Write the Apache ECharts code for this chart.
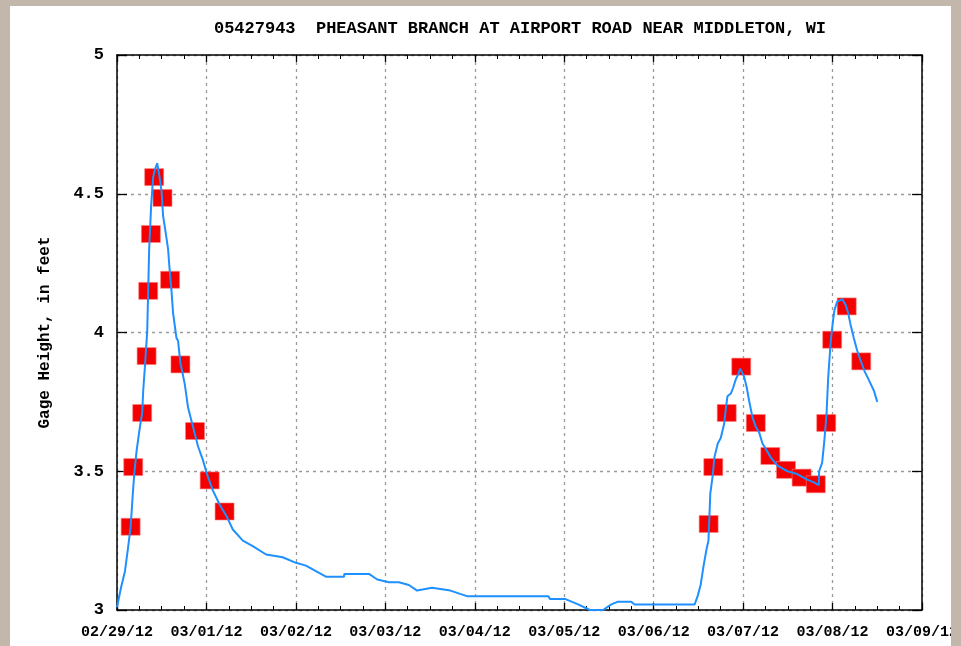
<!DOCTYPE html>
<html>
<head>
<meta charset="utf-8">
<script src="https://cdn.jsdelivr.net/npm/echarts@6/dist/echarts.min.js"></script>
<style>
  html, body { margin: 0; padding: 0; width: 961px; height: 646px; background: #c2b7aa; overflow: hidden; }
  #panel { position: absolute; left: 10px; top: 6px; width: 941px; height: 640px; background: #ffffff; }
  #chart { position: absolute; left: 0; top: 0; width: 961px; height: 646px; }
  #edge { position: absolute; left: 951px; top: 0; width: 10px; height: 646px; background: #c2b7aa; }
</style>
</head>
<body>
<div id="panel"></div>
<div id="chart"></div>
<div id="edge"></div>
<script>
// Hours since 02/29/12 00:00
const lineHours = [0, 1.07, 2.14, 3.02, 3.66, 4.20, 4.62, 5.27, 6.15, 6.76, 7.03, 7.48, 7.94, 8.10, 8.63, 9.17, 9.70, 10.24, 10.77, 11.31, 11.95, 12.37, 13.28, 13.71, 14.16, 14.62, 15.05, 15.96, 16.38, 17.02, 18.17, 19.06, 20.39, 21.73, 23.06, 24.13, 25.74, 27.53, 29.32, 31.08, 33.76, 36.43, 40.01, 44.45, 48.03, 50.70, 53.37, 56.05, 60.94, 61.0, 67.62, 69.84, 72.96, 75.63, 78.31, 80.53, 84.53, 89.45, 93.89, 102.36, 115.72, 116.17, 120.18, 123.74, 126.87, 130.42, 132.64, 134.43, 137.99, 138.89, 155.0, 155.8, 156.6, 157.4, 158.2, 158.7, 159.2, 159.8, 160.3, 161.2, 162.0, 162.9, 163.4, 163.8, 164.7, 165.3, 166.0, 166.7, 167.2, 167.6, 168.3, 169.0, 169.6, 170.5, 171.4, 172.3, 173.2, 174.1, 175.4, 177.2, 179.9, 182.5, 185.2, 187.0, 188.3, 188.4, 189.2, 189.8, 190.4, 190.8, 191.2, 191.6, 192.1, 192.5, 193.2, 194.6, 195.5, 196.2, 196.8, 197.7, 198.6, 199.5, 200.6, 201.7, 203.1, 204.0];
const lineValues = [3.01, 3.08, 3.14, 3.23, 3.30, 3.41, 3.49, 3.575, 3.66, 3.71, 3.79, 3.875, 3.97, 4.00, 4.30, 4.46, 4.56, 4.59, 4.61, 4.57, 4.51, 4.42, 4.34, 4.30, 4.22, 4.15, 4.07, 3.98, 3.97, 3.89, 3.815, 3.73, 3.66, 3.59, 3.54, 3.49, 3.43, 3.38, 3.34, 3.29, 3.25, 3.23, 3.20, 3.19, 3.17, 3.16, 3.14, 3.12, 3.12, 3.13, 3.13, 3.11, 3.10, 3.10, 3.09, 3.07, 3.08, 3.07, 3.05, 3.05, 3.05, 3.04, 3.04, 3.02, 3.00, 3.00, 3.02, 3.03, 3.03, 3.02, 3.02, 3.05, 3.09, 3.16, 3.22, 3.25, 3.42, 3.48, 3.55, 3.60, 3.62, 3.67, 3.73, 3.77, 3.78, 3.80, 3.83, 3.85, 3.87, 3.87, 3.84, 3.80, 3.755, 3.695, 3.66, 3.64, 3.60, 3.58, 3.55, 3.52, 3.50, 3.49, 3.47, 3.46, 3.45, 3.50, 3.53, 3.61, 3.71, 3.83, 3.91, 3.98, 4.04, 4.08, 4.11, 4.12, 4.10, 4.07, 4.03, 3.98, 3.935, 3.90, 3.86, 3.83, 3.79, 3.75];

const pointHours = [3.66, 4.36, 6.76, 7.94, 8.37, 9.09, 9.97, 12.21, 14.24, 17.02, 20.93, 24.86, 28.86, 158.75, 160.0, 163.6, 167.5, 171.4, 175.3, 179.5, 183.7, 187.5, 190.3, 191.9, 195.8, 199.7];
const pointValues = [3.30, 3.515, 3.71, 3.915, 4.15, 4.355, 4.56, 4.485, 4.19, 3.885, 3.645, 3.467, 3.355, 3.31, 3.515, 3.71, 3.877, 3.674, 3.555, 3.505, 3.477, 3.453, 3.674, 3.974, 4.094, 3.896];

const xTickLabels = ['02/29/12', '03/01/12', '03/02/12', '03/03/12', '03/04/12', '03/05/12', '03/06/12', '03/07/12', '03/08/12', '03/09/12'];
const yTickLabels = { 3: '3', 3.5: '3.5', 4: '4', 4.5: '4.5', 5: '5' };

const titleText = '05427943  PHEASANT BRANCH AT AIRPORT ROAD NEAR MIDDLETON, WI';
const yName = 'Gage Height, in feet';

const FONT = '"Liberation Mono", "DejaVu Sans Mono", monospace';

const chart = echarts.init(document.getElementById('chart'), null, { renderer: 'canvas' });

const axisLine = { show: true, onZero: false, lineStyle: { color: '#000', width: 1.5 } };
const gridDash = { show: true, lineStyle: { color: '#9a9a9a', type: [3, 4], width: 1.3 } };

chart.setOption({
  animation: false,
  backgroundColor: 'transparent',
  graphic: [{
    type: 'text', x: 520, y: 29,
    style: { text: titleText, textAlign: 'center', textVerticalAlign: 'middle',
             font: 'bold 17px ' + FONT, fill: '#000' }
  }],
  grid: { left: 117, right: 35, top: 55, bottom: 36, containLabel: false },
  xAxis: [{
    type: 'value', min: 0, max: 216, interval: 24, position: 'bottom',
    axisLine: axisLine,
    axisTick: { show: true, inside: true, length: 7, lineStyle: { color: '#000', width: 1.3 } },
    minorTick: { show: true, splitNumber: 4, length: 4, lineStyle: { color: '#000', width: 1 } },
    splitLine: gridDash,
    axisLabel: {
      show: true, margin: 15, showMinLabel: true, showMaxLabel: true,
      color: '#000', fontFamily: FONT, fontWeight: 'bold', fontSize: 15,
      formatter: v => xTickLabels[Math.round(v / 24)] || ''
    }
  }, {
    type: 'value', min: 0, max: 216, interval: 24, position: 'top',
    axisLine: axisLine,
    axisTick: { show: true, inside: true, length: 7, lineStyle: { color: '#000', width: 1.3 } },
    minorTick: { show: true, splitNumber: 4, length: 4, lineStyle: { color: '#000', width: 1 } },
    splitLine: { show: false }, axisLabel: { show: false }
  }],
  yAxis: [{
    type: 'value', min: 3, max: 5, interval: 0.5, position: 'left',
    name: yName, nameLocation: 'middle', nameGap: 64, nameRotate: 90,
    nameTextStyle: { color: '#000', fontFamily: FONT, fontWeight: 'bold', fontSize: 16 },
    axisLine: axisLine,
    axisTick: { show: true, inside: true, length: 10, lineStyle: { color: '#000', width: 1.3 } },
    splitLine: gridDash,
    axisLabel: {
      show: true, margin: 13, color: '#000', fontFamily: FONT, fontWeight: 'bold', fontSize: 17,
      formatter: v => yTickLabels[v] !== undefined ? yTickLabels[v] : ''
    }
  }, {
    type: 'value', min: 3, max: 5, interval: 0.5, position: 'right',
    axisLine: axisLine,
    axisTick: { show: true, inside: true, length: 10, lineStyle: { color: '#000', width: 1.3 } },
    splitLine: { show: false }, axisLabel: { show: false }
  }],
  series: [{
    type: 'scatter', xAxisIndex: 0, yAxisIndex: 0, z: 2,
    symbol: 'rect', symbolSize: [19, 17],
    itemStyle: { color: '#f30000', borderColor: '#ff8080', borderWidth: 0.6, opacity: 1 },
    data: pointHours.map((h, i) => [h, pointValues[i]])
  }, {
    type: 'line', xAxisIndex: 0, yAxisIndex: 0, z: 3,
    showSymbol: false, symbol: 'none',
    lineStyle: { color: '#1e90ff', width: 2 },
    data: lineHours.map((h, i) => [h, lineValues[i]])
  }]
});
</script>
</body>
</html>
